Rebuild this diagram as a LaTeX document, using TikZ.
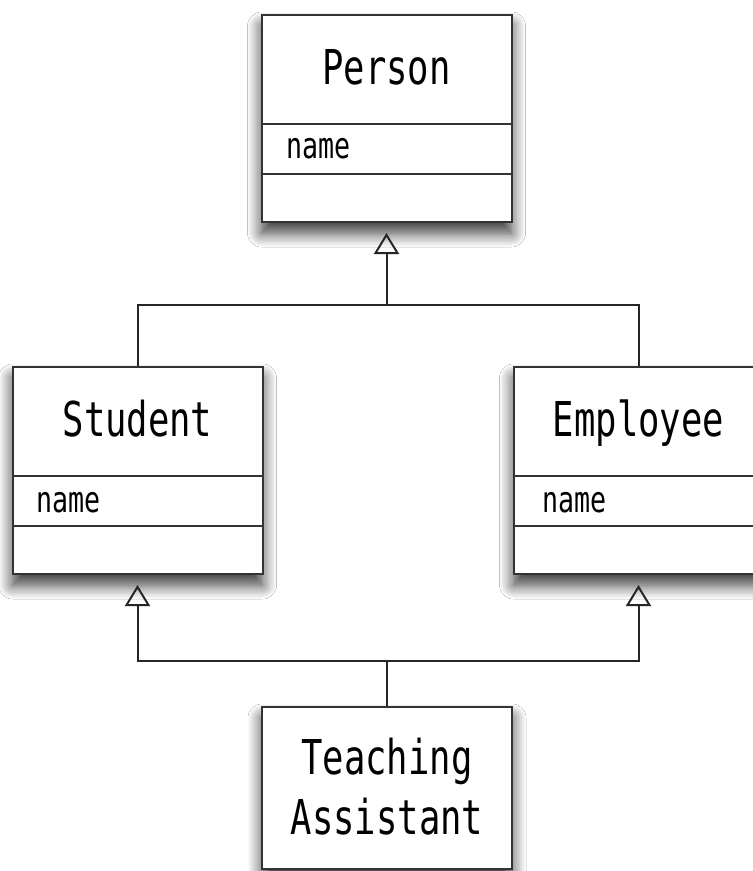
\documentclass[tikz,border=0pt]{standalone}
\usepackage{fontspec}
\newfontfamily\umlfont[FakeStretch=0.74]{DejaVu Sans Mono}
\usetikzlibrary{arrows.meta,shadows.blur}
\begin{document}
\begin{tikzpicture}[x=1pt,y=-1pt,
  classbox/.style={draw=black!80, line width=2pt, fill=white, rectangle,
    minimum width=250pt, minimum height=207pt, inner sep=0pt,
    blur shadow={shadow xshift=0pt, shadow yshift=-11pt, shadow blur radius=14pt, shadow blur steps=12, shadow opacity=80}},
  titletext/.style={font=\umlfont\fontsize{48}{57}\selectfont, anchor=base, inner sep=0pt},
  attrtext/.style={font=\umlfont\fontsize{36}{40}\selectfont, anchor=base west, inner sep=0pt},
  divider/.style={draw=black!80, line width=2pt},
  conn/.style={draw=black!85, line width=2pt},
  inherit/.style={conn, -{Triangle[open, length=21pt, width=25pt]}, shorten >=10pt}
]
\useasboundingbox[fill=white] (0,0) rectangle (753,871);

% Person
\node[classbox] (person) at (386.5,118.5) {};
\draw[divider] ([yshift=-110pt]person.north west) -- ([yshift=-110pt]person.north east);
\draw[divider] ([yshift=-160pt]person.north west) -- ([yshift=-160pt]person.north east);
\node[titletext] (persont) at ([yshift=-70pt]person.north) {Person};
\node[attrtext] (persona) at ([xshift=26pt,yshift=-144pt]person.north west) {name};

% Student
\node[classbox] (stu) at (137.5,470.5) {};
\draw[divider] ([yshift=-110pt]stu.north west) -- ([yshift=-110pt]stu.north east);
\draw[divider] ([yshift=-160pt]stu.north west) -- ([yshift=-160pt]stu.north east);
\node[titletext] (stut) at ([yshift=-70pt]stu.north) {Student};
\node[attrtext] (stua) at ([xshift=25pt,yshift=-146pt]stu.north west) {name};

% Employee
\node[classbox] (emp) at (638.5,470.5) {};
\draw[divider] ([yshift=-110pt]emp.north west) -- ([yshift=-110pt]emp.north east);
\draw[divider] ([yshift=-160pt]emp.north west) -- ([yshift=-160pt]emp.north east);
\node[titletext] (empt) at ([yshift=-70pt]emp.north) {Employee};
\node[attrtext] (empa) at ([xshift=30pt,yshift=-146pt]emp.north west) {name};

% Teaching Assistant
\node[classbox, minimum height=162pt] (ta) at (387,788) {};
\node[titletext] (ta1) at ([yshift=-68pt]ta.north) {Teaching};
\node[titletext] (ta2) at ([yshift=-128pt]ta.north) {Assistant};

% connectors
\coordinate (j1) at (386.5,305);
\coordinate (j2) at (387,661);
\draw[conn] (stu.north) |- (emp.north |- j1) -- (emp.north);
\draw[inherit] (j1) -- (person.south);
\draw[conn] (ta.north) -- (j2);
\draw[inherit] (j2) -| (stu.south);
\draw[inherit] (j2) -| (emp.south);
\end{tikzpicture}
\end{document}
